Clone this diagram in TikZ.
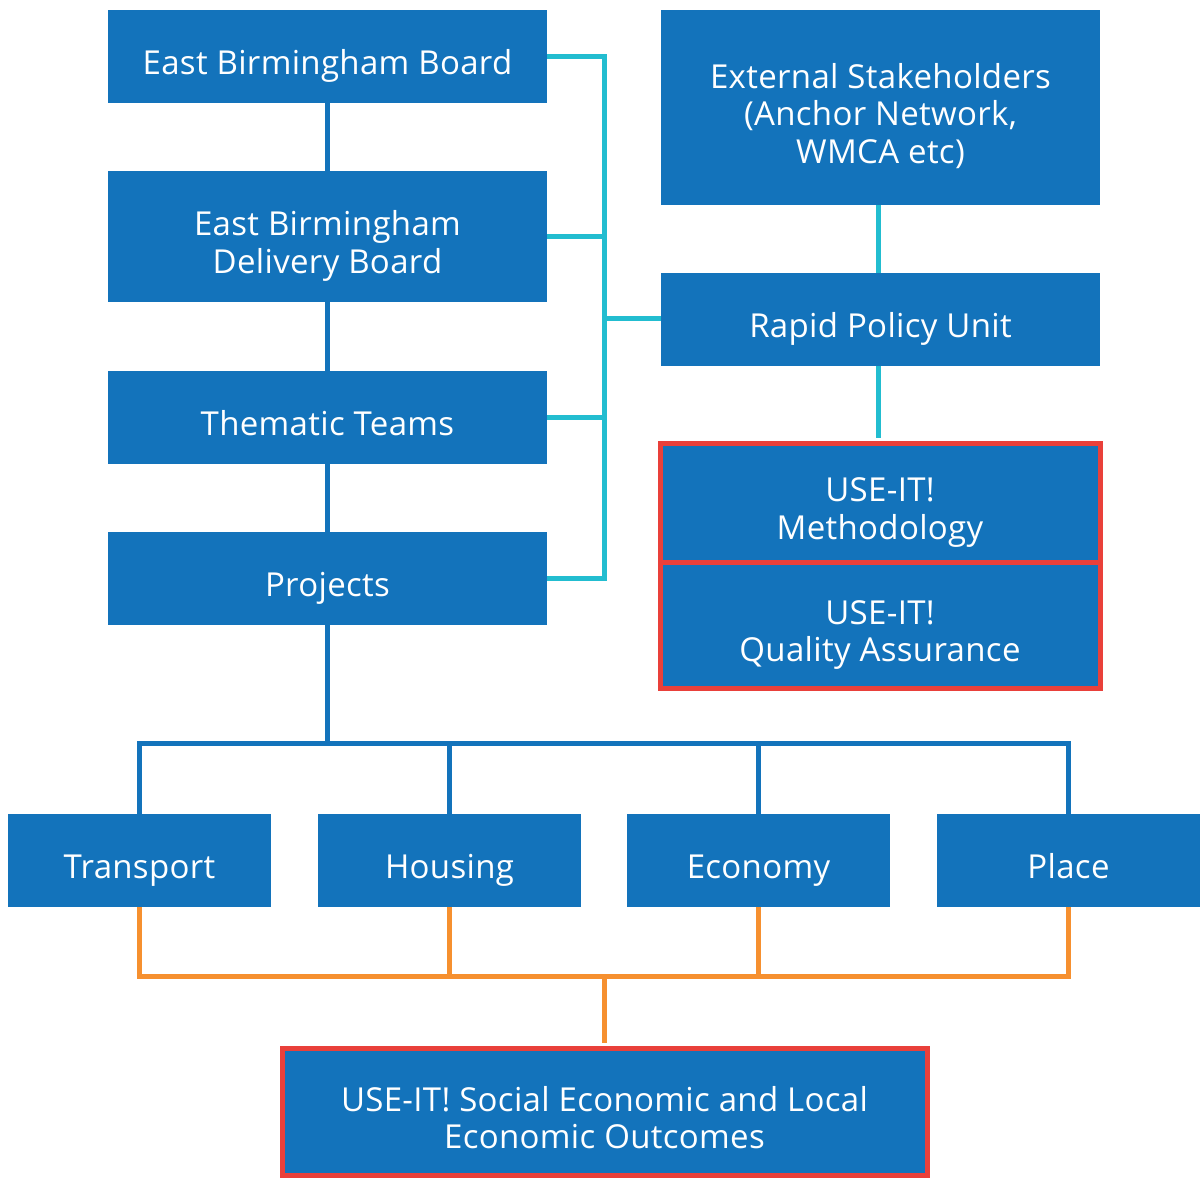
\documentclass[tikz,border=0pt]{standalone}
\usepackage{fontspec}
\setmainfont[LetterSpace=1]{Open Sans}
\definecolor{boxblue}{HTML}{1373BB}
\definecolor{cyanline}{HTML}{22BDD0}
\definecolor{orangeline}{HTML}{F6902F}
\definecolor{redline}{HTML}{E9403A}
\newcommand\sst{\rule[-8pt]{0pt}{34pt}}
\begin{document}
\begin{tikzpicture}[x=1pt,y=-1pt,
  box/.style={fill=boxblue,draw=none,inner sep=0pt},
  redbox/.style={box,draw=redline,line width=5pt},
  txt/.style={text=white,inner sep=0pt,align=center,
    font=\fontsize{33}{37.5}\selectfont},
  blueln/.style={draw=boxblue,line width=5pt},
  cyanln/.style={draw=cyanline,line width=5pt},
  orangeln/.style={draw=orangeline,line width=5pt}]
\useasboundingbox (0,0) rectangle (1200,1178);
\fill[white] (0,0) rectangle (1200,1178);
% left column
\node[box,minimum width=439pt,minimum height=93pt] (ebb) at (327.5,56.5) {};
\node[box,minimum width=439pt,minimum height=131pt] (ebdb) at (327.5,236.5) {};
\node[box,minimum width=439pt,minimum height=93pt] (tt) at (327.5,417.5) {};
\node[box,minimum width=439pt,minimum height=93pt] (proj) at (327.5,578.5) {};
% right column
\node[box,minimum width=439pt,minimum height=195pt] (ext) at (880.5,107.5) {};
\node[box,minimum width=439pt,minimum height=93pt] (rpu) at (880.5,319.5) {};
\node[redbox,minimum width=440pt,minimum height=119pt] (meth) at (880,502.5) {};
\node[redbox,minimum width=440pt,minimum height=126pt] (qa) at (880,625) {};
% themes
\node[box,minimum width=263pt,minimum height=93pt] (tr) at (139.5,860.5) {};
\node[box,minimum width=263pt,minimum height=93pt] (ho) at (449.5,860.5) {};
\node[box,minimum width=263pt,minimum height=93pt] (ec) at (758.5,860.5) {};
\node[box,minimum width=263pt,minimum height=93pt] (pl) at (1068.5,860.5) {};
% outcomes
\node[redbox,minimum width=645pt,minimum height=127.5pt] (out) at (604.5,1111.75) {};
% texts
\node[txt] (ebb-t) at ([yshift=-9pt]ebb.center) {\sst East Birmingham Board};
\node[txt] (ebdb-t) at ([yshift=-9pt]ebdb.center) {\sst East Birmingham\\\sst Delivery Board};
\node[txt] (tt-t) at ([yshift=-9pt]tt.center) {\sst Thematic Teams};
\node[txt] (proj-t) at ([yshift=-9pt]proj.center) {\sst Projects};
\node[txt] (ext-t) at ([yshift=-9pt]ext.center) {\sst External Stakeholders\\\sst (Anchor Network,\\\sst WMCA etc)};
\node[txt] (rpu-t) at ([yshift=-9pt]rpu.center) {\sst Rapid Policy Unit};
\node[txt] (meth-t) at ([yshift=-9pt]meth.center) {\sst USE-IT!\\\sst Methodology};
\node[txt] (qa-t) at ([yshift=-9pt]qa.center) {\sst USE-IT!\\\sst Quality Assurance};
\node[txt] (tr-t) at ([yshift=-9pt]tr.center) {\sst Transport};
\node[txt] (ho-t) at ([yshift=-9pt]ho.center) {\sst Housing};
\node[txt] (ec-t) at ([yshift=-9pt]ec.center) {\sst Economy};
\node[txt] (pl-t) at ([yshift=-9pt]pl.center) {\sst Place};
\node[txt] (out-t) at ([yshift=-9pt]out.center) {\sst USE-IT! Social Economic and Local\\\sst Economic Outcomes};
% coordinates
\coordinate (bus) at (604,318);
\coordinate (topbus) at (327.5,743);
\coordinate (orbus) at (604.5,976);
% blue connectors
\draw[blueln] (ebb.south) -- (ebdb.north);
\draw[blueln] (ebdb.south) -- (tt.north);
\draw[blueln] (tt.south) -- (proj.north);
\draw[blueln] (proj.south) -- (topbus);
\draw[blueln] (tr.north) |- (topbus) -| (pl.north);
\draw[blueln] (ho.north) -- (ho.north |- topbus);
\draw[blueln] (ec.north) -- (ec.north |- topbus);
% cyan connectors
\draw[cyanln] (ebb.east) -| (bus) |- (proj.east);
\draw[cyanln] (ebdb.east) -- (ebdb.east -| bus);
\draw[cyanln] (tt.east) -- (tt.east -| bus);
\draw[cyanln] (bus) -- (bus -| rpu.west);
\draw[cyanln] ([xshift=-2pt]ext.south) -- ([xshift=-2pt]rpu.north);
\draw[cyanln] ([xshift=-2pt]rpu.south) -- ([xshift=-2pt,yshift=2.5pt]rpu.south |- meth.north);
% orange connectors
\draw[orangeln] (tr.south) |- (orbus) -| (pl.south);
\draw[orangeln] (ho.south) -- (ho.south |- orbus);
\draw[orangeln] (ec.south) -- (ec.south |- orbus);
\draw[orangeln] (orbus) -- ([yshift=2.5pt]out.north);
\end{tikzpicture}
\end{document}
